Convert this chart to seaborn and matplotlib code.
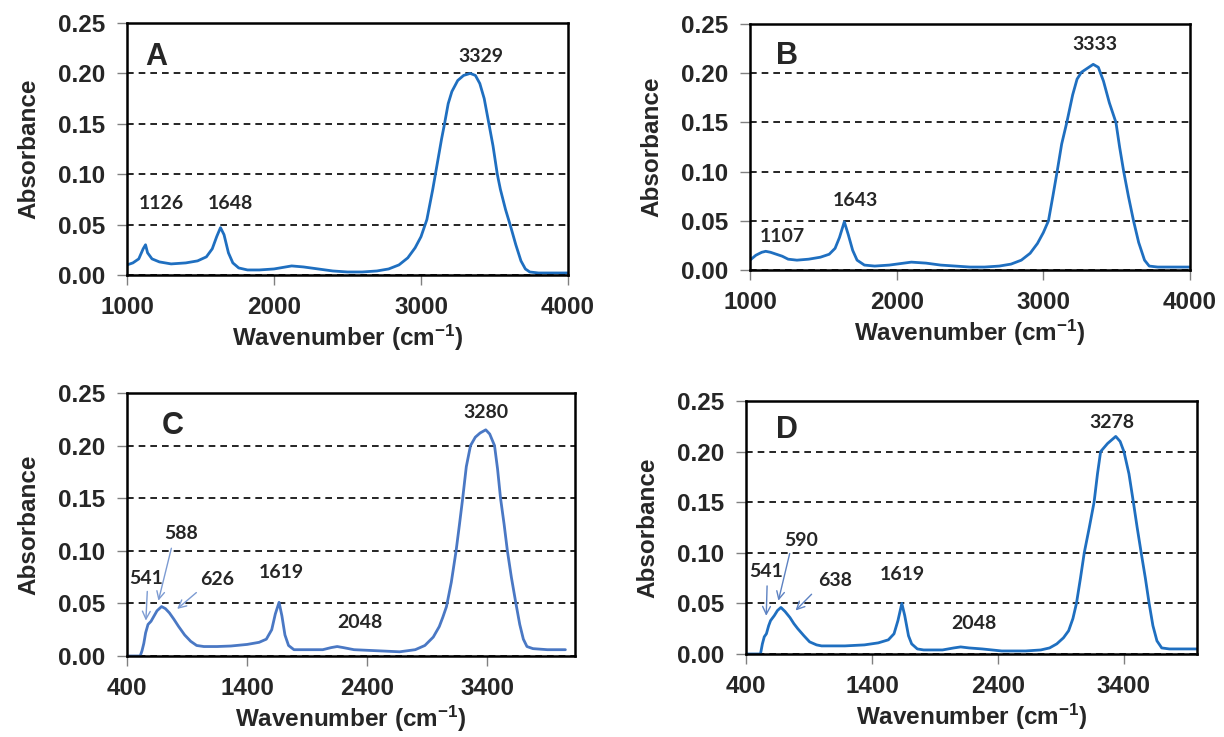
import matplotlib
matplotlib.use("Agg")
import matplotlib.pyplot as plt
import seaborn as sns

# ---------------- data ----------------
a_wavenumber = [1000, 1040, 1080, 1110, 1126, 1140, 1170, 1220, 1300, 1400, 1480, 1540, 1580, 1610, 1636,
                1660, 1690, 1720, 1760, 1820, 1900, 2000, 2080, 2120, 2200, 2300, 2400, 2500, 2600, 2700,
                2780, 2850, 2910, 2960, 3000, 3040, 3080, 3110, 3140, 3160, 3185, 3210, 3250, 3290, 3335,
                3370, 3400, 3430, 3462, 3490, 3519, 3540, 3575, 3610, 3645, 3680, 3710, 3740, 3800, 3900,
                4000]
a_absorbance = [0.010, 0.012, 0.016, 0.026, 0.030, 0.022, 0.016, 0.013, 0.011, 0.012, 0.014, 0.018, 0.026,
                0.038, 0.047, 0.040, 0.022, 0.012, 0.007, 0.005, 0.005, 0.006, 0.008, 0.009, 0.008, 0.006,
                0.004, 0.003, 0.003, 0.004, 0.006, 0.010, 0.017, 0.027, 0.038, 0.055, 0.085, 0.110, 0.135,
                0.150, 0.170, 0.182, 0.193, 0.198, 0.200, 0.198, 0.190, 0.175, 0.150, 0.128, 0.100, 0.085,
                0.065, 0.048, 0.030, 0.014, 0.006, 0.003, 0.002, 0.002, 0.002]

b_wavenumber = [1000, 1040, 1080, 1107, 1140, 1180, 1220, 1260, 1320, 1400, 1480, 1540, 1580, 1610, 1643,
                1670, 1700, 1730, 1780, 1850, 1950, 2050, 2100, 2200, 2300, 2400, 2500, 2600, 2700, 2780,
                2850, 2910, 2960, 3000, 3035, 3065, 3094, 3125, 3160, 3200, 3230, 3260, 3300, 3340, 3375,
                3410, 3450, 3495, 3520, 3548, 3580, 3615, 3650, 3690, 3722, 3780, 4000]
b_absorbance = [0.010, 0.015, 0.018, 0.019, 0.018, 0.016, 0.014, 0.011, 0.010, 0.011, 0.013, 0.016, 0.022,
                0.033, 0.049, 0.036, 0.020, 0.010, 0.005, 0.004, 0.005, 0.007, 0.008, 0.007, 0.005, 0.004,
                0.003, 0.003, 0.004, 0.006, 0.010, 0.017, 0.027, 0.038, 0.050, 0.075, 0.100, 0.128, 0.150,
                0.178, 0.194, 0.201, 0.205, 0.209, 0.206, 0.192, 0.170, 0.150, 0.125, 0.100, 0.075, 0.050,
                0.028, 0.010, 0.004, 0.003, 0.003]

c_wavenumber = [400, 510, 525, 540, 555, 575, 600, 625, 650, 688, 720, 753, 790, 830, 880, 930, 980, 1040,
                1150, 1265, 1400, 1500, 1560, 1605, 1635, 1666, 1690, 1715, 1745, 1790, 1900, 2030, 2100,
                2150, 2200, 2290, 2480, 2670, 2800, 2880, 2950, 3000, 3030, 3060, 3100, 3140, 3168, 3195,
                3225, 3260, 3300, 3340, 3387, 3420, 3460, 3485, 3510, 3540, 3567, 3600, 3638, 3670, 3700,
                3730, 3780, 3900, 4050]
c_absorbance = [0.000, 0.000, 0.005, 0.012, 0.022, 0.030, 0.033, 0.038, 0.043, 0.047, 0.045, 0.041, 0.035,
                0.028, 0.020, 0.014, 0.010, 0.009, 0.009, 0.0095, 0.011, 0.013, 0.016, 0.025, 0.040, 0.051,
                0.038, 0.020, 0.010, 0.006, 0.006, 0.006, 0.008, 0.009, 0.008, 0.006, 0.005, 0.004, 0.006,
                0.010, 0.018, 0.028, 0.037, 0.047, 0.070, 0.100, 0.125, 0.150, 0.180, 0.200, 0.208, 0.212,
                0.215, 0.211, 0.200, 0.178, 0.150, 0.125, 0.100, 0.075, 0.050, 0.030, 0.016, 0.009, 0.007,
                0.006, 0.006]

d_wavenumber = [400, 515, 530, 545, 562, 580, 595, 625, 650, 677, 710, 749, 780, 811, 860, 905, 960, 1000,
                1185, 1340, 1450, 1530, 1575, 1606, 1637, 1660, 1690, 1715, 1760, 1810, 1960, 2050, 2104,
                2170, 2275, 2430, 2620, 2740, 2810, 2867, 2920, 2961, 2995, 3023, 3055, 3085, 3125, 3163,
                3190, 3215, 3270, 3335, 3370, 3400, 3440, 3475, 3505, 3537, 3570, 3600, 3630, 3662, 3700,
                3760, 4000]
d_absorbance = [0.000, 0.000, 0.010, 0.017, 0.020, 0.028, 0.033, 0.038, 0.043, 0.046, 0.042, 0.036, 0.030,
                0.025, 0.018, 0.012, 0.009, 0.008, 0.008, 0.009, 0.011, 0.014, 0.020, 0.033, 0.050, 0.038,
                0.018, 0.010, 0.005, 0.004, 0.004, 0.006, 0.007, 0.006, 0.005, 0.003, 0.003, 0.004, 0.006,
                0.010, 0.016, 0.023, 0.035, 0.050, 0.075, 0.100, 0.125, 0.150, 0.178, 0.200, 0.208, 0.215,
                0.210, 0.200, 0.178, 0.150, 0.125, 0.100, 0.075, 0.050, 0.028, 0.013, 0.006, 0.005, 0.005]

panel_letters = ["A", "B", "C", "D"]
a_peak_labels = ["1126", "1648", "3329"]
b_peak_labels = ["1107", "1643", "3333"]
c_peak_labels = ["1619", "2048", "3280"]
c_arrow_labels = ["541", "588", "626"]
d_peak_labels = ["1619", "2048", "3278"]
d_arrow_labels = ["541", "590", "638"]
y_ticks = [0.00, 0.05, 0.10, 0.15, 0.20, 0.25]
ab_x_ticks = [1000, 2000, 3000, 4000]
cd_x_ticks = [400, 1400, 2400, 3400]

# ---------------- style ----------------
sns.set_theme(style="white")
plt.rcParams["font.family"] = ["Liberation Sans", "DejaVu Sans"]
plt.rcParams["mathtext.fontset"] = "custom"
plt.rcParams["mathtext.rm"] = "Liberation Sans:bold"
plt.rcParams["mathtext.it"] = "Liberation Sans:bold"
plt.rcParams["mathtext.bf"] = "Liberation Sans:bold"
plt.rcParams["mathtext.default"] = "rm"

fig = plt.figure(figsize=(12.24, 7.37), dpi=100)
W, H = 1224, 737


def make_ax(left, right, top, bottom):
    return fig.add_axes([left / W, 1 - bottom / H, (right - left) / W, (bottom - top) / H])


axA = make_ax(127, 568, 23, 275)
axB = make_ax(750, 1190, 24, 270)
axC = make_ax(127, 575, 393, 656)
axD = make_ax(746, 1197, 401, 654)

TICK_FS = 17.5
LABEL_FONT = dict(family="Lato", weight="bold", fontsize=14)


def style_axis(ax, xlim, xticks):
    ax.set_xlim(*xlim)
    ax.set_ylim(0, 0.25)
    ax.set_xticks(xticks)
    ax.set_yticks(y_ticks)
    ax.set_yticklabels([f"{v:.2f}" for v in y_ticks])
    ax.set_xticklabels([str(v) for v in xticks])
    for lab in ax.get_xticklabels() + ax.get_yticklabels():
        lab.set_fontsize(TICK_FS)
        lab.set_fontweight("bold")
    ax.tick_params(axis="both", direction="out", length=7, width=1.0, color="#808080",
                   bottom=True, left=True)
    ax.tick_params(axis="y", pad=9)
    ax.tick_params(axis="x", pad=8)
    ax.yaxis.grid(True, color="black", linestyle=(0, (4, 3)), linewidth=1.2)
    ax.xaxis.grid(False)
    ax.set_axisbelow(True)
    for s in ax.spines.values():
        s.set_visible(True)
        s.set_color("black")
        s.set_linewidth(1.8)
    ax.set_xlabel("Wavenumber (cm$^{-1}$)", fontsize=TICK_FS, fontweight="bold", labelpad=3)
    ax.set_ylabel("Absorbance", fontsize=TICK_FS, fontweight="bold", labelpad=12)


blue = "#1f6fc0"
blue_c = "#4a78c4"

sns.lineplot(x=a_wavenumber, y=a_absorbance, ax=axA, color=blue, linewidth=2.0, sort=False)
sns.lineplot(x=b_wavenumber, y=b_absorbance, ax=axB, color=blue, linewidth=2.0, sort=False)
sns.lineplot(x=c_wavenumber, y=c_absorbance, ax=axC, color=blue_c, linewidth=2.0, sort=False)
sns.lineplot(x=d_wavenumber, y=d_absorbance, ax=axD, color=blue, linewidth=2.0, sort=False)

style_axis(axA, (1000, 4000), ab_x_ticks)
style_axis(axB, (1000, 4000), ab_x_ticks)
style_axis(axC, (400, 4130), cd_x_ticks)
style_axis(axD, (400, 3980), cd_x_ticks)

# panel letters
letter_kw = dict(fontsize=22, fontweight="bold", ha="center", va="center")
axA.text(1197, 0.216, panel_letters[0], **letter_kw)
axB.text(1249, 0.217, panel_letters[1], **letter_kw)
axC.text(785, 0.219, panel_letters[2], **letter_kw)
axD.text(728, 0.221, panel_letters[3], **letter_kw)

# peak labels
for ax, labels, pos in [
    (axA, a_peak_labels, [(1234, 0.0707), (1701, 0.0707), (3410, 0.217)]),
    (axB, b_peak_labels, [(1222, 0.034), (1717, 0.071), (3348, 0.229)]),
    (axC, c_peak_labels, [(1682, 0.079), (2339, 0.032), (3387, 0.231)]),
    (axD, d_peak_labels, [(1637, 0.079), (2207, 0.030), (3303, 0.229)]),
]:
    for lab, (x, y) in zip(labels, pos):
        ax.text(x, y, lab, ha="center", va="center", **LABEL_FONT)

# arrow labels for C and D
arrow_c = "#7c9bd2"
arrow_d = "#5d82c2"
for ax, labels, col, specs in [
    (axC, c_arrow_labels, arrow_c,
     [((560, 0.074), (570, 0.064), (556, 0.031)),
      ((849, 0.116), (775, 0.105), (656, 0.050)),
      ((1153, 0.073), (995, 0.062), (800, 0.043))]),
    (axD, d_arrow_labels, arrow_d,
     [((562, 0.082), (568, 0.070), (560, 0.035)),
      ((836, 0.112), (752, 0.102), (652, 0.050)),
      ((1107, 0.073), (936, 0.061), (778, 0.041))]),
]:
    for lab, (tp, start, end) in zip(labels, specs):
        ax.text(tp[0], tp[1], lab, ha="center", va="center", **LABEL_FONT)
        ax.annotate("", xy=end, xytext=start,
                    arrowprops=dict(arrowstyle="->", color=col, lw=1.0, mutation_scale=14))

fig.savefig("out.png", dpi=100)
